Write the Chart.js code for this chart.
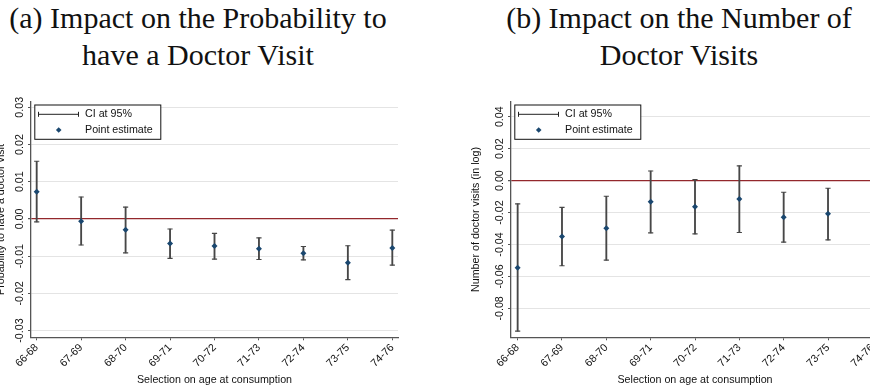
<!DOCTYPE html>
<html>
<head>
<meta charset="utf-8">
<script src="https://cdn.jsdelivr.net/npm/chart.js@4.4.0/dist/chart.umd.min.js"></script>
<style>
  body { margin: 0; width: 870px; height: 390px; overflow: hidden; position: relative; background: #fff; }
  .title { position: absolute; top: 0; font-family: "Liberation Serif", serif; font-size: 30px; line-height: 36.7px; text-align: center; color: #111; }
  canvas { position: absolute; top: 90px; }
</style>
</head>
<body>
<div class="title" style="left:0; width:396px;">(a) Impact on the Probability to<br>have a Doctor Visit</div>
<div class="title" style="left:479px; width:400px;">(b) Impact on the Number of<br>Doctor Visits</div>
<canvas id="chart_prob" width="450" height="300" style="left:-10px;"></canvas>
<canvas id="chart_num" width="460" height="300" style="left:440px;"></canvas>
<script>
const ageGroups = ["66-68", "67-69", "68-70", "69-71", "70-72", "71-73", "72-74", "73-75", "74-76"];

// (a) probability to have a doctor visit
const probEstimate = [0.0073, -0.0006, -0.0029, -0.0066, -0.0073, -0.0080, -0.0092, -0.0118, -0.0078];
const probUpper = [0.0155, 0.0059, 0.0032, -0.0027, -0.0039, -0.0051, -0.0074, -0.0072, -0.0030];
const probLower = [-0.0008, -0.0070, -0.0091, -0.0106, -0.0108, -0.0109, -0.0110, -0.0163, -0.0124];
const probTicks = [0.03, 0.02, 0.01, 0, -0.01, -0.02, -0.03];

// (b) number of doctor visits (log)
const numEstimate = [-0.0545, -0.0350, -0.0298, -0.0133, -0.0163, -0.0115, -0.0229, -0.0208, null];
const numUpper = [-0.0146, -0.0167, -0.0098, 0.0060, 0.0006, 0.0092, -0.0073, -0.0048, null];
const numLower = [-0.0942, -0.0533, -0.0498, -0.0327, -0.0333, -0.0325, -0.0385, -0.0371, null];
const numTicks = [0.04, 0.02, 0, -0.02, -0.04, -0.06, -0.08];

const NAVY = "#1a476f";
const BAR = "#474747";
const AXIS = "#555";
const GRID = "#e4e4e4";
const MAROON = "#93282c";

Chart.defaults.font.family = "'Liberation Sans', Arial, sans-serif";
Chart.defaults.font.size = 10.7;
Chart.defaults.color = "#111";

// stata-like legend box in the top left corner of the plot
const boxLegend = {
  id: "boxLegend",
  afterDraw(chart) {
    const { ctx, chartArea } = chart;
    const ds = chart.data.datasets;
    const bx = chartArea.left + 3.3;
    const by = chartArea.top + 2.8;
    ctx.save();
    ctx.fillStyle = "#fff";
    ctx.fillRect(bx, by, 126.5, 34.8);
    ctx.strokeStyle = "#111";
    ctx.lineWidth = 1;
    ctx.strokeRect(bx + 0.5, by + 0.5, 126, 34.3);

    // CI sample
    const y1 = by + 9.8;
    ctx.strokeStyle = "#222";
    ctx.beginPath();
    ctx.moveTo(bx + 3.7, y1); ctx.lineTo(bx + 44.7, y1);
    ctx.moveTo(bx + 4.2, y1 - 2.5); ctx.lineTo(bx + 4.2, y1 + 2.5);
    ctx.moveTo(bx + 44.2, y1 - 2.5); ctx.lineTo(bx + 44.2, y1 + 2.5);
    ctx.stroke();

    // point sample
    const y2 = by + 25.5;
    const px = bx + 24.4;
    ctx.fillStyle = NAVY;
    ctx.beginPath();
    ctx.moveTo(px, y2 - 2.8); ctx.lineTo(px + 2.8, y2); ctx.lineTo(px, y2 + 2.8); ctx.lineTo(px - 2.8, y2);
    ctx.closePath();
    ctx.fill();

    ctx.fillStyle = "#111";
    ctx.font = "10.7px 'Liberation Sans', Arial, sans-serif";
    ctx.textBaseline = "middle";
    ctx.fillText(ds[1].label, bx + 50.7, y1);
    ctx.fillText(ds[0].label, bx + 50.7, y2);
    ctx.restore();
  }
};

function makeChart(id, est, upper, lower, yTicks, yTitle, opt) {
  const idx = ageGroups.map((_, i) => i);
  return new Chart(document.getElementById(id), {
    type: "scatter",
    data: {
      datasets: [
        {
          label: "Point estimate",
          data: idx.map((i) => ({ x: i, y: est[i] })),
          pointStyle: "rectRot",
          pointRadius: 3,
          backgroundColor: NAVY,
          borderColor: NAVY,
          borderWidth: 0,
        },
        {
          type: "bar",
          label: "CI at 95%",
          data: idx.map((i) => ({ x: i, y: lower[i] === null ? null : [lower[i], upper[i]] })),
          backgroundColor: BAR,
          barThickness: 1.2,
          borderWidth: 0,
        },
        {
          label: "upper",
          data: idx.map((i) => ({ x: i, y: upper[i] })),
          pointStyle: "line",
          pointRadius: 2.6,
          borderColor: BAR,
          borderWidth: 1.2,
        },
        {
          label: "lower",
          data: idx.map((i) => ({ x: i, y: lower[i] })),
          pointStyle: "line",
          pointRadius: 2.6,
          borderColor: BAR,
          borderWidth: 1.2,
        },
      ],
    },
    options: {
      responsive: false,
      animation: false,
      events: [],
      layout: { padding: { left: 0, top: 11.7, right: opt.padRight, bottom: 0 } },
      plugins: { legend: { display: false }, tooltip: { enabled: false } },
      scales: {
        x: {
          type: "linear",
          offset: false,
          min: -opt.edge,
          max: ageGroups.length - 1 + opt.edge,
          afterBuildTicks: (s) => { s.ticks = idx.map((i) => ({ value: i })); },
          afterFit: (s) => { s.height = 52.7; },
          grid: { drawOnChartArea: false, offset: false, tickLength: 3, color: AXIS, tickWidth: 1 },
          border: { color: AXIS, width: 1.3 },
          ticks: {
            minRotation: 45,
            maxRotation: 45,
            autoSkip: false,
            padding: 1,
            callback: (v) => ageGroups[v],
          },
          title: {
            display: true,
            text: "Selection on age at consumption",
            padding: { top: 0, bottom: 3.6 },
          },
        },
        y: {
          type: "linear",
          bounds: "data",
          min: opt.yMin,
          max: opt.yMax,
          afterBuildTicks: (s) => { s.ticks = yTicks.map((v) => ({ value: v })); },
          afterFit: (s) => { s.width = opt.yWidth; },
          grid: {
            tickLength: 3,
            tickColor: AXIS,
            color: (c) => (c.tick && c.tick.value === 0 ? MAROON : GRID),
            lineWidth: (c) => (c.tick && c.tick.value === 0 ? 1.2 : 1),
          },
          border: { color: AXIS, width: 1.3 },
          ticks: {
            minRotation: 90,
            maxRotation: 90,
            crossAlign: "center",
            autoSkip: false,
            padding: opt.tickPad,
            callback: (v) => v.toFixed(2),
          },
          title: {
            display: true,
            text: yTitle,
            padding: { top: opt.titlePad, bottom: 0 },
          },
        },
      },
    },
    plugins: [boxLegend],
  });
}

makeChart("chart_prob", probEstimate, probUpper, probLower, probTicks,
  "Probability to have a doctor visit",
  { yMin: -0.0318, yMax: 0.0315, edge: 0.128, yWidth: 41, padRight: 42, tickPad: -4.7, titlePad: 4.3 });

makeChart("chart_num", numEstimate, numUpper, numLower, numTicks,
  "Number of doctor visits (in log)",
  { yMin: -0.0981, yMax: 0.0494, edge: 0.15, yWidth: 71, padRight: 21, tickPad: -4.2, titlePad: 29.6 });
</script>
</body>
</html>
